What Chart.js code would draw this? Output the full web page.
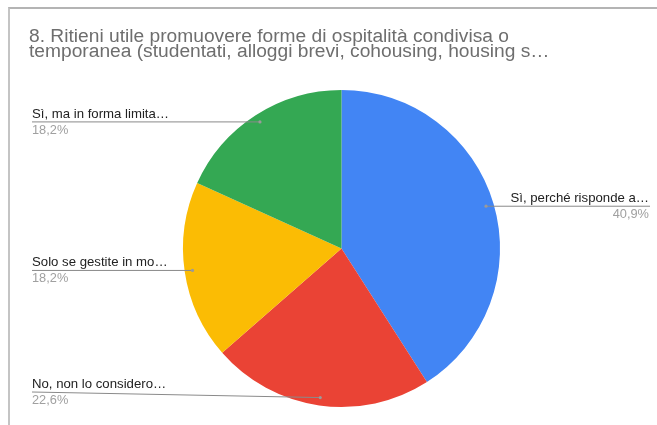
<!DOCTYPE html>
<html><head><meta charset="utf-8">
<script src="https://cdn.jsdelivr.net/npm/chart.js@4"></script>
<style>
html,body{margin:0;padding:0;background:#fff;}
#wrap{position:relative;width:657px;height:425px;}
#frame{position:absolute;left:8px;top:7px;right:-4px;bottom:-4px;border-left:2px solid #c4c4c4;border-top:2px solid #b4b4b4;}
canvas{position:absolute;left:0;top:0;}
</style></head>
<body><div id="wrap"><div id="frame"></div><canvas id="c" width="657" height="425"></canvas></div>
<script>
const titleLines = ["8. Ritieni utile promuovere forme di ospitalità condivisa o",
                    "temporanea (studentati, alloggi brevi, cohousing, housing s…"];
const categories = ["Sì, perché risponde a…", "No, non lo considero…", "Solo se gestite in mo…", "Sì, ma in forma limita…"];
const values = [40.9, 22.6, 18.2, 18.2];
const pctLabels = ["40,9%", "22,6%", "18,2%", "18,2%"];
const colors = ["#4285F4", "#EA4335", "#FBBC04", "#34A853"];

const FONT = "'Liberation Sans', Arial, sans-serif";

const titlePlugin = {
  id: 'gtitle',
  afterDraw(chart) {
    const ctx = chart.ctx;
    ctx.save();
    ctx.fillStyle = '#6e6e6e';
    ctx.font = '19.2px ' + FONT;
    ctx.textAlign = 'left';
    ctx.textBaseline = 'alphabetic';
    ctx.fillText(titleLines[0], 29, 42);
    ctx.fillText(titleLines[1], 29, 57);
    ctx.restore();
  }
};

const leaderPlugin = {
  id: 'leaders',
  afterDraw(chart) {
    const ctx = chart.ctx;
    const meta = chart.getDatasetMeta(0);
    ctx.save();
    meta.data.forEach((arc, i) => {
      const p = arc.getProps(['x','y','startAngle','endAngle','outerRadius'], true);
      const mid = (p.startAngle + p.endAngle) / 2;
      const r = p.outerRadius * 0.95;
      const dx = p.x + Math.cos(mid) * r;
      const dy = p.y + Math.sin(mid) * r;
      const right = Math.cos(mid) > 0;
      let ly = Math.min(dy, chart.height - 33);
      ctx.strokeStyle = '#8a8a8a';
      ctx.lineWidth = 1;
      ctx.beginPath();
      if (right) {
        ctx.moveTo(dx, dy); ctx.lineTo(650, ly);
      } else {
        ctx.moveTo(32, ly); ctx.lineTo(dx, dy);
      }
      ctx.stroke();
      ctx.fillStyle = '#9a9a9a';
      ctx.beginPath(); ctx.arc(dx, dy, 1.6, 0, Math.PI*2); ctx.fill();
      ctx.font = '13.2px ' + FONT;
      ctx.textAlign = right ? 'right' : 'left';
      const tx = right ? 649 : 32;
      ctx.fillStyle = '#222222';
      ctx.fillText(categories[i], tx, ly - 4);
      ctx.fillStyle = '#a0a0a0';
      ctx.font = '12.8px ' + FONT;
      ctx.fillText(pctLabels[i], tx, ly + 12);
    });
    ctx.restore();
  }
};

new Chart(document.getElementById('c'), {
  type: 'pie',
  data: { labels: categories, datasets: [{ data: values, backgroundColor: colors, borderWidth: 0 }] },
  options: {
    responsive: false,
    animation: false,
    layout: { padding: { top: 90, bottom: 18, left: 183, right: 157 } },
    plugins: { legend: { display: false }, tooltip: { enabled: false }, title: { display: false } }
  },
  plugins: [titlePlugin, leaderPlugin]
});
</script>
</body></html>
